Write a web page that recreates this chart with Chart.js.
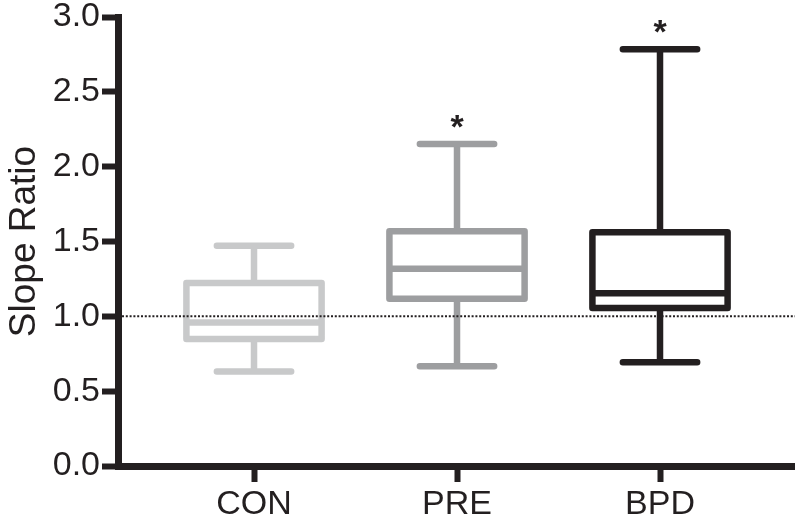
<!DOCTYPE html>
<html><head><meta charset="utf-8">
<script src="https://cdn.jsdelivr.net/npm/chart.js@4.4.1/dist/chart.umd.min.js"></script>
<style>html,body{margin:0;padding:0;background:#fff}#wrap{width:795px;height:528px}</style>
</head><body><div id="wrap"><canvas id="c" width="795" height="528"></canvas></div>
<script>
const categories = ['CON', 'PRE', 'BPD'];
const whiskerLow = [0.631, 0.667, 0.693];
const q1 = [0.849, 1.118, 1.055];
const median = [0.958, 1.318, 1.155];
const q3 = [1.222, 1.569, 1.562];
const whiskerHigh = [1.471, 2.151, 2.784];
const significance = ['', '*', '*'];
const yTickValues = [0, 0.5, 1.0, 1.5, 2.0, 2.5, 3.0];
const referenceLine = 1.0;

const boxColors = ['#c8c9ca', '#9d9ea0', '#231f20'];
const INK = '#231f20';
const FONT = "'Liberation Sans', Arial, Helvetica, sans-serif";

const boxPlotPlugin = {
  id: 'boxPlot',
  afterDatasetsDraw(chart, args, opts) {
    const ctx = chart.ctx, xs = chart.scales.x, ys = chart.scales.y;
    const area = chart.chartArea;
    ctx.save();
    categories.forEach((c, i) => {
      const cx = xs.getPixelForValue(i);
      const left = xs.getPixelForValue(i - opts.boxHalf);
      const right = xs.getPixelForValue(i + opts.boxHalf);
      const capL = xs.getPixelForValue(i - opts.capHalf);
      const capR = xs.getPixelForValue(i + opts.capHalf);
      const yLo = ys.getPixelForValue(whiskerLow[i]);
      const yQ1 = ys.getPixelForValue(q1[i]);
      const yMed = ys.getPixelForValue(median[i]);
      const yQ3 = ys.getPixelForValue(q3[i]);
      const yHi = ys.getPixelForValue(whiskerHigh[i]);
      ctx.strokeStyle = boxColors[i];
      ctx.lineWidth = opts.lineWidth;
      ctx.lineCap = 'butt';
      ctx.lineJoin = 'round';
      ctx.beginPath();
      ctx.moveTo(cx, yQ3); ctx.lineTo(cx, yHi);
      ctx.moveTo(cx, yQ1); ctx.lineTo(cx, yLo);
      ctx.stroke();
      ctx.lineCap = 'round';
      ctx.beginPath();
      ctx.moveTo(capL, yHi); ctx.lineTo(capR, yHi);
      ctx.moveTo(capL, yLo); ctx.lineTo(capR, yLo);
      ctx.stroke();
      ctx.lineCap = 'butt';
      ctx.beginPath();
      ctx.rect(left, yQ3, right - left, yQ1 - yQ3);
      ctx.stroke();
      ctx.beginPath();
      ctx.moveTo(left, yMed); ctx.lineTo(right, yMed);
      ctx.stroke();
    });
    const yRef = ys.getPixelForValue(referenceLine);
    ctx.strokeStyle = INK;
    ctx.lineWidth = 2;
    ctx.setLineDash([2, 1.8]);
    ctx.lineCap = 'butt';
    ctx.beginPath();
    ctx.moveTo(area.left + 4, yRef); ctx.lineTo(area.right, yRef);
    ctx.stroke();
    ctx.setLineDash([]);
    ctx.fillStyle = INK;
    ctx.font = opts.starFont;
    ctx.textAlign = 'center';
    ctx.textBaseline = 'alphabetic';
    categories.forEach((c, i) => {
      if (!significance[i]) return;
      const cx = xs.getPixelForValue(i);
      const yHi = ys.getPixelForValue(whiskerHigh[i]);
      ctx.fillText(significance[i], cx, yHi - opts.starGap);
    });
    ctx.restore();
  }
};

new Chart(document.getElementById('c'), {
  type: 'scatter',
  data: {
    datasets: [{
      label: 'median',
      data: categories.map((c, i) => ({ x: i, y: median[i] })),
      pointRadius: 0,
      showLine: false
    }]
  },
  options: {
    responsive: false,
    animation: false,
    devicePixelRatio: 1,
    layout: { padding: { top: 17, left: 0, right: 0, bottom: 0 } },
    plugins: {
      legend: { display: false },
      tooltip: { enabled: false },
      boxPlot: { boxHalf: 0.333, capHalf: 0.183, lineWidth: 6.5, starFont: 'bold 34px ' + FONT, starGap: 6 }
    },
    scales: {
      x: {
        type: 'linear',
        min: -0.67,
        max: 2.665,
        afterBuildTicks: s => { s.ticks = categories.map((c, i) => ({ value: i })); },
        afterFit: s => { s.height = 62; s.paddingLeft = 0; s.paddingRight = 0; },
        ticks: {
          autoSkip: false, maxRotation: 0,
          callback: v => categories[v],
          font: { family: FONT, size: 34 },
          color: INK,
          padding: 2
        },
        grid: { drawOnChartArea: false, drawTicks: true, tickLength: 16, tickWidth: 6, color: INK },
        border: { display: true, width: 7, color: INK }
      },
      y: {
        min: 0, max: 3,
        afterBuildTicks: s => { s.ticks = yTickValues.map(v => ({ value: v })); },
        afterFit: s => { s.width = 118; s.paddingTop = 0; s.paddingBottom = 0; },
        ticks: {
          callback: v => Number(v).toFixed(1),
          font: { family: FONT, size: 34 },
          color: INK,
          padding: 2
        },
        grid: { drawOnChartArea: false, drawTicks: true, tickLength: 16, tickWidth: 6, color: INK },
        border: { display: true, width: 7, color: INK },
        title: {
          display: true, text: 'Slope Ratio',
          font: { family: FONT, size: 37 },
          color: INK,
          padding: { top: 3, bottom: 0 }
        }
      }
    }
  },
  plugins: [boxPlotPlugin]
});
</script>
</body></html>
